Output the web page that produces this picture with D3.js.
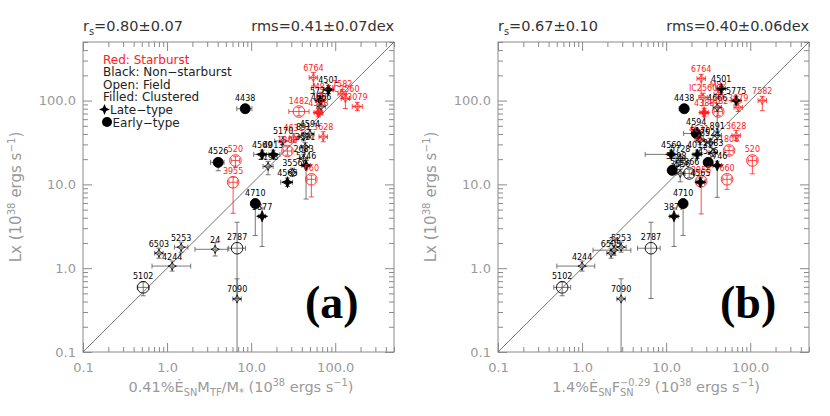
<!DOCTYPE html>
<html><head><meta charset="utf-8">
<script src="https://cdnjs.cloudflare.com/ajax/libs/d3/7.8.5/d3.min.js"></script>
<style>body{margin:0;background:#fff;} svg{display:block;}</style>
</head><body>
<svg id="c" width="830" height="416"></svg>
<script>
// ---------- axis data ----------
const axisDomain = [0.1, 500];
const majorTicks = [0.1, 1, 10, 100];
const majorTickLabels = ["0.1", "1.0", "10.0", "100.0"];
const minorTicks = [0.2,0.3,0.4,0.5,0.6,0.7,0.8,0.9,2,3,4,5,6,7,8,9,20,30,40,50,60,70,80,90,200,300,400,500];

// ---------- panel (a) ----------
const namesA = ["6764","4501","M82","5775","4666","4388","1482","IC2560","7582","3079","4438","3628","4631","4594","891","5170","1808","3521","4013","4569","3198","2683","5746","3556","4565","660","520","3955","4526","4710","3877","2787","24","5253","6503","4244","5102","7090"];
const xA = [55,83,68,66,68,63,37,132,121,183,8.5,72,32,50,42,24,27,44,18.3,13.5,15.9,42,45,31,27,52,6.5,6.1,4.05,11.2,13.5,6.8,3.73,1.47,0.80,1.15,0.52,6.8];
const yA = [188,135,112,100,85,72,74,106,121,85,80,37,36,40,37,33,25,28,22.8,22.8,16.4,20.4,16.8,13.9,10.6,11.5,19.3,10.6,18.3,5.9,4.16,1.73,1.68,1.78,1.51,1.06,0.59,0.43];
const typeA = ["L","L","L","L","L","L","E","L","L","L","E","L","L","L","L","L","E","L","L","L","L","L","L","L","L","E","E","E","E","E","L","E","L","L","L","L","E","L"];
const starburstA = [1,0,1,0,0,1,1,1,1,1,0,1,1,0,0,0,1,0,0,0,0,0,0,0,0,1,1,1,0,0,0,0,0,0,0,0,0,0];
const clusteredA = [0,1,0,1,0,1,0,0,0,0,1,0,0,0,0,0,0,0,1,1,0,0,1,0,1,0,0,0,1,1,1,0,0,0,0,0,0,0];
const xErrLoA = [.05,.06,.05,.05,.05,.05,.12,.05,.05,.06,.1,.05,.05,.05,.05,.1,.05,.05,.08,.1,.06,.05,.05,.05,.08,.05,.05,.05,.09,.05,.04,.1,.24,.08,.05,.24,.07,.05];
const xErrHiA = [.05,.06,.05,.05,.05,.05,.12,.05,.05,.06,.08,.05,.05,.05,.05,.1,.05,.05,.08,.08,.06,.05,.05,.05,.06,.05,.05,.05,.07,.05,.04,.1,.15,.08,.05,.22,.07,.05];
const yErrLoA = [.1,.05,.05,.05,.1,.05,.05,.12,.06,.05,.05,.06,.05,.05,.05,.05,.05,.05,.05,.05,.1,.08,.4,.05,.05,.21,.08,.37,.1,.38,.36,.6,.08,.06,.06,.06,.1,3];
const yErrHiA = [.06,.05,.05,.05,.05,.05,.05,.05,.05,.05,.05,.06,.05,.05,.05,.05,.05,.05,.05,.05,.06,.05,.06,.05,.05,.05,.05,.06,.05,.05,.1,.31,.08,.06,.06,.06,.07,.24];

// ---------- panel (b) ----------
const namesB = ["6764","IC2560","M82","4501","4666","1482","4388","4438","5775","3079","7582","3628","1808","520","660","3955","4565","5746","4569","4013","4526","","4594","891","4631","3521","5170","2683","5728","5866","3556","3198","4710","3877","2787","5253","24","6503","4244","5102","7090"];
const xB = [26.1,27.5,41.6,45.2,40.5,41.6,28.3,16.4,68,72,139,68,56,106,53,26.1,25.5,40.5,11.5,23.4,31.6,11.8,22.8,40.5,24.7,33.4,25.4,36.3,14.7,18.8,14.7,13.2,15.9,12.4,6.6,2.91,2.4,2.21,1.0,0.58,2.91];
const yB = [183,109,118,139,82.6,74,72,80,100,83,100,38.3,25.4,19.3,11.5,10.9,10.6,16.8,22.8,22.8,18.3,14.7,40.5,38.3,35.3,31.6,33.4,24,20.4,13.5,13.5,16.8,5.9,4.16,1.73,1.78,1.64,1.51,1.06,0.59,0.43];
const typeB = ["L","L","L","L","L","E","L","E","L","L","L","L","E","E","E","E","L","L","L","L","E","E","E","L","L","L","L","L","L","E","L","L","E","L","E","L","L","L","L","E","L"];
const starburstB = [1,1,1,0,0,1,1,0,0,1,1,1,1,1,1,1,0,0,0,0,0,0,0,0,1,0,0,0,0,0,0,0,0,0,0,0,0,0,0,0,0];
const clusteredB = [0,0,0,1,0,0,1,1,1,0,0,0,0,0,0,0,1,1,1,1,1,1,1,0,0,0,0,0,0,0,0,0,1,1,0,0,0,0,0,0,0];
const xErrLoB = [.05,.05,.05,.05,.05,.05,.05,.06,.06,.05,.05,.05,.05,.05,.05,.05,.05,.05,.31,.05,.05,.05,.15,.05,.05,.05,.05,.05,.05,.05,.05,.05,.05,.05,.16,.06,.25,.05,.3,.1,.05];
const xErrHiB = [.05,.05,.05,.05,.05,.05,.05,.03,.06,.05,.05,.05,.05,.05,.05,.05,.05,.05,.08,.05,.05,.05,.05,.05,.05,.05,.05,.05,.05,.05,.05,.05,.05,.05,.11,.06,.2,.05,.15,.1,.05];
const yErrLoB = [.2,.1,.05,.05,.3,.05,.05,.05,.05,.05,.12,.06,.05,.16,.12,.39,.05,.38,.05,.05,.05,.05,.05,.05,.05,.05,.05,.05,.05,.05,.1,.05,.38,.36,.6,.06,.06,.06,.06,.1,3];
const yErrHiB = [.05,.05,.05,.05,.05,.05,.05,.05,.05,.05,.05,.06,.05,.05,.05,.05,.05,.05,.05,.05,.05,.05,.05,.05,.05,.05,.05,.05,.05,.05,.05,.05,.05,.1,.31,.06,.06,.06,.06,.07,.24];

// ---------- text ----------
const rsTexts = ["0.80\u00b10.07", "0.67\u00b10.10"];
const rmsTexts = ["rms=0.41\u00b10.07dex", "rms=0.40\u00b10.06dex"];
const panelTags = ["(a)", "(b)"];
const legendLines = ["Red: Starburst", "Black: Non\u2212starburst", "Open: Field", "Filled: Clustered", "Late\u2212type", "Early\u2212type"];

// ---------- drawing ----------
const svg = d3.select("#c");
const TOP = 42, BOTTOM = 352, W = 311;
const lefts = [83, 498];
const AX = "#8a8a8a", LBL = "#9a9a9a", RED = "#ff2020";
const FONT = "DejaVu Sans";

function starPath(r){ const k = r*0.3;
  return `M0,${-r}L${k},${-k}L${r},0L${k},${k}L0,${r}L${-k},${k}L${-r},0L${-k},${-k}Z`; }

function richText(sel, parts, size){
  // parts: [text, mode] mode: n, sub, sup, supstack
  let shift = 0; let lastSub = null;
  parts.forEach(([t, m]) => {
    const ts = sel.append("tspan").text(t);
    let target = 0, fs = size;
    if (m === "sub") { target = size*0.3; fs = size*0.68; }
    if (m === "sup" || m === "supstack") { target = -size*0.42; fs = size*0.68; }
    ts.attr("font-size", fs).attr("dy", target - shift);
    if (m === "supstack" && lastSub) {
      const w = lastSub.node().getComputedTextLength();
      ts.attr("dx", -w);
    }
    shift = target;
    lastSub = (m === "sub") ? ts : null;
  });
}

const panels = [
  {names:namesA, x:xA, y:yA, type:typeA, sb:starburstA, cl:clusteredA, xl:xErrLoA, xh:xErrHiA, yl:yErrLoA, yh:yErrHiA},
  {names:namesB, x:xB, y:yB, type:typeB, sb:starburstB, cl:clusteredB, xl:xErrLoB, xh:xErrHiB, yl:yErrLoB, yh:yErrHiB}
];

const xLabels = [
  [["0.41%\u0116","n"],["SN","sub"],["M","n"],["TF","sub"],["/M","n"],["*","sub"],[" (10","n"],["38","sup"],[" ergs s","n"],["\u22121","sup"],[")","n"]],
  [["1.4%\u0116","n"],["SN","sub"],["F","n"],["SN","sub"],["\u22120.29","supstack"],[" (10","n"],["38","sup"],[" ergs s","n"],["\u22121","sup"],[")","n"]]
];

panels.forEach((P, pi) => {
  const L = lefts[pi];
  const x = d3.scaleLog().domain(axisDomain).range([L, L+W]);
  const y = d3.scaleLog().domain(axisDomain).range([BOTTOM, TOP]);
  const g = svg.append("g");

  const clipId = "clip" + pi;
  svg.append("clipPath").attr("id", clipId).append("rect")
    .attr("x", L).attr("y", TOP).attr("width", W).attr("height", BOTTOM-TOP);

  // axes (ticks inward)
  const mk = (axisFn, scale, tr, vals, size, labels) => {
    const a = axisFn(scale).tickValues(vals).tickSizeInner(-size).tickSizeOuter(0);
    if (labels) a.tickFormat((d,i) => majorTickLabels[majorTicks.indexOf(d)]).tickPadding(labels);
    else a.tickFormat("");
    const ag = g.append("g").attr("transform", tr).call(a);
    ag.select(".domain").remove();
    ag.selectAll("line").attr("stroke", AX);
    ag.selectAll("text").attr("fill", LBL).attr("font-family", FONT).attr("font-size", 13);
    return ag;
  };
  mk(d3.axisBottom, x, `translate(0,${BOTTOM})`, majorTicks, 9, 11);
  mk(d3.axisBottom, x, `translate(0,${BOTTOM})`, minorTicks, 5, 0);
  mk(d3.axisTop, x, `translate(0,${TOP})`, majorTicks, 9, 0);
  mk(d3.axisTop, x, `translate(0,${TOP})`, minorTicks, 5, 0);
  mk(d3.axisLeft, y, `translate(${L},0)`, majorTicks, 9, 7);
  mk(d3.axisLeft, y, `translate(${L},0)`, minorTicks, 5, 0);
  mk(d3.axisRight, y, `translate(${L+W},0)`, majorTicks, 9, 0);
  mk(d3.axisRight, y, `translate(${L+W},0)`, minorTicks, 5, 0);
  g.append("rect").attr("x", L).attr("y", TOP).attr("width", W).attr("height", BOTTOM-TOP)
    .attr("fill", "none").attr("stroke", AX).attr("stroke-width", 1);

  const pg = g.append("g").attr("clip-path", `url(#${clipId})`);
  // 1:1 line
  pg.append("line").attr("x1", x(axisDomain[0])).attr("y1", y(axisDomain[0]))
    .attr("x2", x(axisDomain[1])).attr("y2", y(axisDomain[1]))
    .attr("stroke", "#666").attr("stroke-width", 0.9);

  const idx = d3.range(P.names.length);
  const col = i => P.sb[i] ? RED : "#000";
  const ecol = i => P.sb[i] ? RED : "#555";
  const cap = 2.5;
  // error bars
  idx.forEach(i => {
    const cx = x(P.x[i]), cy = y(P.y[i]);
    const x0 = x(P.x[i]*Math.pow(10,-P.xl[i])), x1 = x(P.x[i]*Math.pow(10,P.xh[i]));
    const y0 = y(P.y[i]*Math.pow(10,-P.yl[i])), y1 = y(P.y[i]*Math.pow(10,P.yh[i]));
    const e = pg.append("g").attr("stroke", ecol(i)).attr("stroke-width", 0.8);
    e.append("line").attr("x1", x0).attr("x2", x1).attr("y1", cy).attr("y2", cy);
    e.append("line").attr("x1", x0).attr("x2", x0).attr("y1", cy-cap).attr("y2", cy+cap);
    e.append("line").attr("x1", x1).attr("x2", x1).attr("y1", cy-cap).attr("y2", cy+cap);
    e.append("line").attr("x1", cx).attr("x2", cx).attr("y1", y0).attr("y2", y1);
    e.append("line").attr("x1", cx-cap).attr("x2", cx+cap).attr("y1", y0).attr("y2", y0);
    e.append("line").attr("x1", cx-cap).attr("x2", cx+cap).attr("y1", y1).attr("y2", y1);
  });
  // symbols
  idx.forEach(i => {
    const cx = x(P.x[i]), cy = y(P.y[i]);
    const filled = P.cl[i] === 1;
    if (P.type[i] === "E") {
      pg.append("circle").attr("cx", cx).attr("cy", cy).attr("r", filled ? 5 : 5.8)
        .attr("fill", filled ? col(i) : "none").attr("stroke", col(i)).attr("stroke-width", 0.9);
    } else {
      pg.append("path").attr("d", starPath(filled ? 5.5 : 4.2))
        .attr("transform", `translate(${cx},${cy})`)
        .attr("fill", filled ? col(i) : "none").attr("stroke", col(i)).attr("stroke-width", 0.8);
    }
  });
  // point labels
  idx.forEach(i => {
    if (!P.names[i]) return;
    const cx = x(P.x[i]), cy = y(P.y[i]);
    const off = P.type[i] === "E" ? 8 : 6.5;
    g.append("text").attr("x", cx).attr("y", cy - off).attr("text-anchor", "middle")
      .attr("font-family", FONT).attr("font-size", 8).attr("fill", col(i)).text(P.names[i]);
  });

  // titles
  const t1 = g.append("text").attr("x", L).attr("y", 31).attr("font-family", FONT)
    .attr("font-size", 14.5).attr("fill", "#333");
  richText(t1, [["r","n"],["s","sub"],["="+rsTexts[pi],"n"]], 14.5);
  g.append("text").attr("x", L+W).attr("y", 31).attr("text-anchor", "end").attr("font-family", FONT)
    .attr("font-size", 14.5).attr("fill", "#333").text(rmsTexts[pi]);

  // panel tag
  g.append("text").attr("x", L+222).attr("y", 318).attr("font-family", "Liberation Serif")
    .attr("font-weight", "bold").attr("font-size", 46).attr("fill", "#000").text(panelTags[pi]);

  // x label
  const xt = g.append("text").attr("x", L + 158).attr("y", 392).attr("text-anchor", "middle")
    .attr("font-family", FONT).attr("font-size", 14.5).attr("fill", LBL);
  richText(xt, xLabels[pi], 14.5);

  // y label
  const yt = g.append("text").attr("transform", `translate(${L-62},197) rotate(-90)`)
    .attr("text-anchor", "middle").attr("font-family", FONT).attr("font-size", 15).attr("fill", LBL);
  richText(yt, [["Lx (10","n"],["38","sup"],[" ergs s","n"],["\u22121","sup"],[")","n"]], 15);
});

// legend (panel a)
const lg = svg.append("g").attr("font-family", FONT).attr("font-size", 12);
legendLines.forEach((t, i) => {
  const yy = 63.5 + i*12.6;
  const cls = i === 0 ? RED : "#222";
  if (i < 4) lg.append("text").attr("x", 103).attr("y", yy).attr("fill", cls).text(t);
  else {
    if (i === 4) lg.append("path").attr("d", starPath(5.5)).attr("transform", `translate(104.5,${yy-4.5})`).attr("fill", "#000");
    else lg.append("circle").attr("cx", 107).attr("cy", yy-4.5).attr("r", 5).attr("fill", "#000");
    lg.append("text").attr("x", i === 4 ? 110 : 112.5).attr("y", yy).attr("fill", "#222").text(t);
  }
});
</script>
</body></html>
